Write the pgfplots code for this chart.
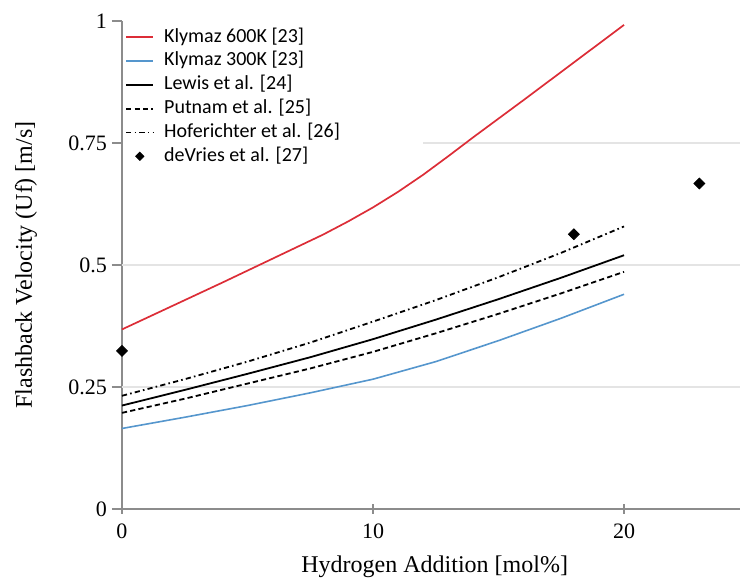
\documentclass[border=0pt]{standalone}
\usepackage{fontspec}
\setmainfont{Liberation Serif}
\newfontfamily\legfont{Carlito}
\usepackage{pgfplots}
\pgfplotsset{compat=1.18}
\usetikzlibrary{calc}

\definecolor{klred}{RGB}{220,45,55}
\definecolor{klblue}{RGB}{85,150,205}
\definecolor{axgray}{RGB}{140,140,140}
\definecolor{gridgray}{RGB}{228,228,228}

% short line sample and centred diamond for the legend
\pgfplotsset{
  short line legend/.style={legend image code/.code={\draw[##1] (0pt,0pt) -- (13.5pt,0pt);}},
  diamond legend/.style={legend image code/.code={\draw[##1, mark size=1.45pt] plot coordinates {(6.75pt,0pt)};}},
}

\begin{document}
\begin{tikzpicture}
\begin{axis}[
  scale only axis, width=309pt, height=244pt,
  xmin=0, xmax=24.62, ymin=0, ymax=1,
  clip=false,
  axis lines=left,
  axis line style={-, axgray, line width=0.7pt},
  xtick={0,10,20}, ytick={0,0.25,0.5,0.75,1},
  xtick align=center, ytick align=outside,
  major tick length=5pt,
  tick style={axgray, line width=0.7pt},
  extra y ticks={0.25,0.5}, extra y tick labels={},
  extra y tick style={grid=major},
  major grid style={gridgray, line width=0.6pt},
  /pgf/number format/assume math mode=true,
  tick label style={font=\fontsize{11}{13}\selectfont},
  xticklabel style={yshift=-1.5pt},
  yticklabel style={xshift=1pt},
  xlabel={Hydrogen Addition [mol\%]},
  ylabel={Flashback Velocity (Uf) [m/s]},
  label style={font=\fontsize{12}{14}\selectfont},
  xlabel style={at={(axis description cs:0.506,0)}, anchor=center, yshift=-29pt},
  ylabel style={at={(axis description cs:0,0.5)}, anchor=center, yshift=48pt},
  legend cell align=left,
  short line legend,
  legend style={at={(axis description cs:0,1)}, anchor=north west,
    xshift=1.5pt, yshift=-2pt, draw=none, fill=white,
    inner xsep=0pt, inner ysep=0pt, column sep=5pt, row sep=0pt,
    font=\legfont\fontsize{10}{12}\selectfont,
    nodes={inner xsep=0pt, inner ysep=1.35pt, text height=7pt, text depth=2.2pt}},
]
\coordinate (bl) at (rel axis cs:0,0);
\coordinate (tr) at (rel axis cs:1,1);

% upper grid line, only right of the legend
\addplot[gridgray, line width=0.6pt, forget plot] coordinates {(12.0,0.75) (24.62,0.75)};

% Klymaz 600K
\addplot[klred, line width=0.85pt] coordinates {
  (0,0.368) (2,0.416) (4,0.464) (6,0.513) (8,0.562) (9,0.589) (10,0.618)
  (11,0.650) (12,0.685) (13,0.723) (14,0.762) (16,0.838) (18,0.915) (20,0.992)};
\addlegendentry{Klymaz 600K [23]}

% Klymaz 300K
\addplot[klblue, line width=0.8pt] coordinates {
  (0,0.165) (2.5,0.188) (5,0.212) (7.5,0.238) (10,0.266)
  (12.5,0.302) (15,0.345) (17.5,0.391) (20,0.440)};
\addlegendentry{Klymaz 300K [23]}

% Lewis et al.
\addplot[black, line width=0.9pt] coordinates {
  (0,0.212) (2.5,0.244) (5,0.277) (7.5,0.311) (10,0.348)
  (12.5,0.388) (15,0.430) (17.5,0.474) (20,0.520)};
\addlegendentry{Lewis et al. [24]}

% Putnam et al.
\addplot[black, line width=0.9pt, dash pattern=on 2.6pt off 1.6pt] coordinates {
  (0,0.197) (2.5,0.226) (5,0.257) (7.5,0.288) (10,0.322)
  (12.5,0.360) (15,0.400) (17.5,0.442) (20,0.486)};
\addlegendentry{Putnam et al. [25]}

% Hoferichter et al.
\addplot[black, line width=0.9pt, dash pattern=on 2.6pt off 1.6pt on 0.8pt off 1.6pt] coordinates {
  (0,0.232) (2.5,0.266) (5,0.302) (7.5,0.341) (10,0.384)
  (12.5,0.428) (15,0.475) (17.5,0.525) (20,0.579)};
\addlegendentry{Hoferichter et al. [26]}

% deVries et al.
\addplot[black, only marks, mark=square*, mark options={rotate=45}, mark size=1.9pt, diamond legend]
  coordinates {(0,0.324) (18,0.563) (23,0.667)};
\addlegendentry{deVries et al. [27]}
\end{axis}
\pgfresetboundingbox
\path[use as bounding box] ($(bl)+(-61pt,-34.5pt)$) rectangle ($(tr)+(0pt,10.5pt)$);
\end{tikzpicture}
\end{document}
